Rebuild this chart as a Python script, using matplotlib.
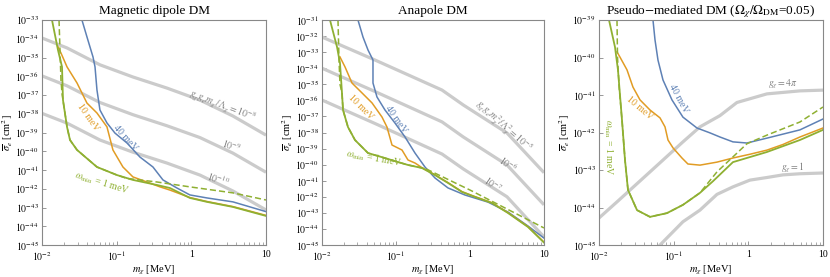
import numpy as np
import matplotlib
matplotlib.use("Agg")
import matplotlib.pyplot as plt

plt.rcParams['font.family'] = ['Liberation Serif', 'DejaVu Serif']
plt.rcParams['mathtext.fontset'] = 'stix'

BLUE = '#5E81B5'
ORANGE = '#E19C24'
GREEN = '#8FB032'
GRAY = '#CBCBCB'
TXT = '#7F7F7F'

# values are log10(m_chi/MeV), log10(sigma_e/cm^2)
# --- magnetic dipole ---
md_green_x = [-1.866, -1.786, -1.732, -1.719, -1.665, -1.625, -1.531, -1.264, -0.996, -0.782, -0.46, -0.287, -0.019, 0.209, 0.557, 1.0]
md_green_y = [-33.0, -34.6, -35.5, -37.27, -38.7, -39.4, -39.93, -40.84, -41.27, -41.53, -41.8, -41.96, -42.49, -42.7, -42.97, -43.45]
md_dash_x = [-1.772, -1.746, -1.73, -1.719, -1.665, -1.625, -1.531, -1.264, -0.996, -0.862, -0.46, -0.019, 0.557, 1.0]
md_dash_y = [-33.0, -36.2, -37.0, -37.27, -38.7, -39.4, -39.93, -40.84, -41.27, -41.45, -41.64, -41.9, -42.22, -42.6]
md_orange_x = [-1.79, -1.746, -1.665, -1.531, -1.398, -1.264, -1.13, -1.05, -0.916, -0.782, -0.594, -0.42, -0.287, -0.019, 0.209, 0.557, 1.0]
md_orange_y = [-34.4, -34.76, -35.5, -36.36, -37.43, -37.96, -38.7, -39.93, -40.84, -41.37, -41.64, -41.9, -42.07, -42.47, -42.68, -42.95, -43.42]
md_blue_x = [-1.465, -1.398, -1.317, -1.29, -1.264, -1.224, -1.13, -1.023, -0.862, -0.688, -0.514, -0.38, -0.193, -0.019, 0.209, 0.557, 1.0]
md_blue_y = [-33.0, -33.9, -34.97, -35.5, -36.73, -37.8, -38.49, -39.03, -39.56, -40.31, -40.84, -41.53, -41.96, -42.33, -42.49, -42.7, -43.22]
md_gray_x = [-2.0, -1.665, -1.224, -0.782, -0.327, 0.115, 0.557, 1.0]
md_gray_8 = [-33.96, -34.49, -35.39, -36.04, -36.63, -37.27, -38.12, -39.14]
md_gray_9 = [-35.98, -36.51, -37.4, -38.05, -38.64, -39.27, -40.1, -41.12]
md_gray_10 = [-37.98, -38.5, -39.4, -40.05, -40.63, -41.27, -42.12, -43.13]

# --- anapole ---
an_green_x = [-1.892, -1.797, -1.757, -1.73, -1.716, -1.649, -1.554, -1.378, -1.149, -0.973, -0.838, -0.649, -0.473, -0.297, -0.108, 0.068, 0.297, 0.514, 0.784, 1.0]
an_green_y = [-31.0, -32.68, -33.68, -35.54, -36.6, -37.66, -38.47, -39.28, -39.59, -39.84, -40.02, -40.21, -40.65, -41.14, -41.7, -42.01, -42.39, -43.01, -43.88, -44.85]
an_dash_x = [-1.784, -1.77, -1.757, -1.73, -1.716, -1.649, -1.554, -1.378, -1.149, -0.973, -0.838, -0.6, 0.0, 1.0]
an_dash_y = [-31.0, -33.49, -35.0, -35.54, -36.6, -37.66, -38.47, -39.28, -39.59, -39.84, -40.02, -40.25, -41.58, -43.94]
an_orange_x = [-1.757, -1.689, -1.595, -1.459, -1.324, -1.189, -1.122, -1.054, -0.919, -0.838, -0.743, -0.703, -0.649, -0.473, -0.297, -0.108, 0.068, 0.297, 0.514, 0.784, 1.0]
an_orange_y = [-33.3, -33.92, -34.92, -35.54, -36.16, -37.04, -37.66, -38.78, -39.09, -39.71, -39.9, -40.02, -40.19, -40.63, -41.12, -41.68, -41.99, -42.37, -42.99, -43.86, -44.82]
an_blue_x = [-1.514, -1.446, -1.378, -1.311, -1.311, -1.257, -1.149, -1.014, -0.878, -0.743, -0.608, -0.473, -0.297, -0.068, 0.243, 0.514, 0.784, 1.0]
an_blue_y = [-31.0, -32.06, -32.87, -33.49, -34.92, -35.79, -36.6, -37.41, -38.28, -39.28, -40.15, -40.83, -41.45, -41.89, -42.33, -42.95, -43.82, -44.57]
an_gray_x = [-2.0, -1.284, -0.378, -0.09, 0.5, 1.0]
an_gray_5 = [-32.06, -33.49, -35.36, -36.29, -38.03, -40.5]
an_gray_6 = [-34.0, -35.45, -37.34, -38.28, -40.02, -42.5]
an_gray_7 = [-35.98, -37.44, -39.34, -40.27, -42.0, -44.5]

# --- pseudo-mediated ---
ps_green_x = [-1.866, -1.786, -1.746, -1.692, -1.652, -1.612, -1.491, -1.317, -1.09, -0.876, -0.648, -0.474, -0.206, 0.249, 0.691, 1.0]
ps_green_y = [-39.0, -39.72, -40.33, -41.67, -42.73, -43.53, -44.07, -44.25, -44.15, -43.93, -43.61, -43.3, -42.79, -42.52, -42.2, -41.93]
ps_dash_x = [-1.759, -1.752, -1.73, -1.692, -1.652, -1.612, -1.491, -1.317, -1.09, -0.876, -0.648, -0.42, -0.206, -0.019, 0.249, 0.691, 1.0]
ps_dash_y = [-39.0, -40.0, -40.8, -41.67, -42.73, -43.53, -44.07, -44.25, -44.15, -43.93, -43.61, -43.05, -42.65, -42.3, -42.07, -41.72, -41.32]
ps_orange_x = [-1.759, -1.719, -1.625, -1.545, -1.451, -1.317, -1.183, -1.116, -1.076, -1.009, -0.889, -0.809, -0.648, -0.42, -0.206, 0.021, 0.249, 0.463, 0.691, 1.0]
ps_orange_y = [-39.85, -39.99, -40.33, -40.79, -41.13, -41.4, -41.61, -41.85, -42.2, -42.41, -42.68, -42.84, -42.87, -42.79, -42.68, -42.58, -42.47, -42.32, -42.12, -41.88]
ps_blue_x = [-1.277, -1.25, -1.21, -1.143, -1.023, -0.876, -0.688, -0.514, -0.38, -0.206, -0.019, 0.249, 0.691, 1.0]
ps_blue_y = [-39.0, -39.53, -40.07, -40.6, -41.13, -41.59, -41.88, -42.01, -42.12, -42.25, -42.28, -42.15, -41.93, -41.64]
ps_gray4pi_x = [-2.0, -1.759, -1.317, -0.876, -0.648, -0.38, -0.153, 0.249, 0.691, 1.0]
ps_gray4pi_y = [-44.28, -43.85, -43.05, -42.25, -41.85, -41.55, -41.2, -40.97, -40.89, -40.87]
ps_gray1_x = [-1.25, -1.183, -0.876, -0.648, -0.42, -0.206, 0.021, 0.249, 0.463, 0.691, 1.0]
ps_gray1_y = [-45.15, -45.0, -44.38, -44.07, -43.65, -43.45, -43.27, -43.2, -43.13, -43.1, -43.08]

titles = ['Magnetic dipole DM', 'Anapole DM',
          r'Pseudo$-$mediated DM ($\Omega_\chi/\Omega_{\rm DM}$=0.05)']
ylims = [(-45, -33), (-45, -31), (-45, -39)]
lefts = [42 / 830, 322 / 830, 599 / 830]
widths = [224 / 830, 222 / 830, 224 / 830]

fig = plt.figure(figsize=(8.3, 2.77), dpi=100)
axes = []
for i in range(3):
    ax = fig.add_axes([lefts[i], 32 / 277, widths[i], 225 / 277])
    axes.append(ax)


def P(ax, x, y, **kw):
    ax.plot(10 ** np.array(x), 10 ** np.array(y), **kw)


def T(ax, lx, ly, s, c, rot=0):
    ax.text(10 ** lx, 10 ** ly, s, color=c, fontsize=7, rotation=rot,
            ha='center', va='center', rotation_mode='anchor')


# panel 1
ax = axes[0]
for g in [md_gray_8, md_gray_9, md_gray_10]:
    P(ax, md_gray_x, g, color=GRAY, lw=2.3, solid_capstyle='butt')
P(ax, md_blue_x, md_blue_y, color=BLUE, lw=1.1)
P(ax, md_orange_x, md_orange_y, color=ORANGE, lw=1.1)
P(ax, md_dash_x, md_dash_y, color=GREEN, lw=1.1, ls=(0, (4, 2)))
P(ax, md_green_x, md_green_y, color=GREEN, lw=1.3)
T(ax, 0.42, -37.55, r'$g_\chi g_e m_\chi/\Lambda_\chi = 10^{-8}$', TXT, -21)
T(ax, 0.54, -39.7, r'$10^{-9}$', TXT, -18)
T(ax, 0.36, -41.5, r'$10^{-10}$', TXT, -18)
T(ax, -1.38, -38.2, '10 meV', ORANGE, -55)
T(ax, -0.88, -39.3, '40 meV', BLUE, -48)
T(ax, -1.2, -41.7, r'$\omega_{\rm min}$ = 1 meV', GREEN, -17)

# panel 2
ax = axes[1]
for g in [an_gray_5, an_gray_6, an_gray_7]:
    P(ax, an_gray_x, g, color=GRAY, lw=2.3, solid_capstyle='butt')
P(ax, an_blue_x, an_blue_y, color=BLUE, lw=1.1)
P(ax, an_orange_x, an_orange_y, color=ORANGE, lw=1.1)
P(ax, an_dash_x, an_dash_y, color=GREEN, lw=1.1, ls=(0, (4, 2)))
P(ax, an_green_x, an_green_y, color=GREEN, lw=1.3)
T(ax, 0.45, -37.6, r'$g_\chi g_e m_\chi^2/\Lambda_\chi^2 = 10^{-5}$', TXT, -42)
T(ax, 0.51, -39.95, r'$10^{-6}$', TXT, -35)
T(ax, 0.31, -41.2, r'$10^{-7}$', TXT, -35)
T(ax, -1.48, -36.4, '10 meV', ORANGE, -45)
T(ax, -1.0, -37.2, '40 meV', BLUE, -55)
T(ax, -1.3, -39.65, r'$\omega_{\rm min}$ = 1 meV', GREEN, -10)

# panel 3
ax = axes[2]
P(ax, ps_gray4pi_x, ps_gray4pi_y, color=GRAY, lw=2.3, solid_capstyle='butt')
P(ax, ps_gray1_x, ps_gray1_y, color=GRAY, lw=2.3, solid_capstyle='butt')
P(ax, ps_blue_x, ps_blue_y, color=BLUE, lw=1.1)
P(ax, ps_orange_x, ps_orange_y, color=ORANGE, lw=1.1)
P(ax, ps_dash_x, ps_dash_y, color=GREEN, lw=1.1, ls=(0, (4, 2)))
P(ax, ps_green_x, ps_green_y, color=GREEN, lw=1.3)
T(ax, 0.46, -40.73, r'$g_\chi = 4\pi$', TXT)
T(ax, 0.6, -42.95, r'$g_\chi = 1$', TXT)
T(ax, -1.45, -41.35, '10 meV', ORANGE, -40)
T(ax, -0.94, -41.1, '40 meV', BLUE, -62)
T(ax, -1.87, -42.4, r'$\omega_{\rm min}$ = 1 meV', GREEN, -90)

for i, ax in enumerate(axes):
    ax.set_xscale('log')
    ax.set_yscale('log')
    ax.set_xlim(1e-2, 10)
    lo, hi = ylims[i]
    ax.set_ylim(10.0 ** lo, 10.0 ** hi)
    ax.set_yticks([10.0 ** k for k in range(lo, hi + 1)])
    ax.set_yticklabels([r'$10^{%d}$' % k for k in range(lo, hi + 1)])
    ax.yaxis.set_minor_locator(matplotlib.ticker.NullLocator())
    ax.set_xticks([1e-2, 1e-1, 1, 10])
    ax.set_xticklabels([r'$10^{-2}$', r'$10^{-1}$', '1', '10'])
    ax.tick_params(which='both', direction='in', labelsize=7, color='#888888',
                   top=False, right=False, pad=2.5)
    ax.tick_params(axis='x', which='both', pad=3.5)
    ax.tick_params(which='major', length=3, width=0.6)
    ax.tick_params(which='minor', length=2, width=0.5)
    for s in ax.spines.values():
        s.set_color('#888888')
        s.set_linewidth(0.8)
    ax.set_title(titles[i], fontsize=9.5, pad=4)
    ax.set_xlabel(r'$m_\chi$ [MeV]', fontsize=7.5, labelpad=0.5)
    ax.set_ylabel(r'$\overline{\sigma}_e$ [cm$^2$]', fontsize=7.5, labelpad=0)

fig.savefig('out.png', dpi=100)
